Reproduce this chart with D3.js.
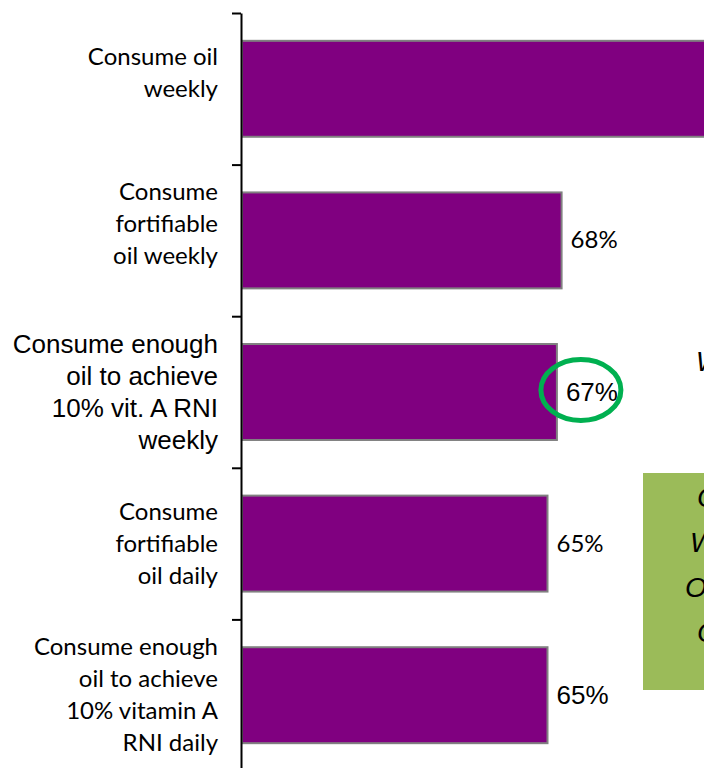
<!DOCTYPE html>
<html>
<head>
<meta charset="utf-8">
<script src="https://cdn.jsdelivr.net/npm/d3@7"></script>
<style>
  html, body { margin: 0; padding: 0; background: #ffffff; }
  svg { display: block; }
</style>
</head>
<body>
<script>
// Share of households by oil consumption indicator
// (the first two labels carry a trailing line break, which lifts them in their band)
const categories = [
  "Consume oil\nweekly\n",
  "Consume\nfortifiable\noil weekly\n",
  "Consume enough\noil to achieve\n10% vit. A RNI\nweekly",
  "Consume\nfortifiable\noil daily",
  "Consume enough\noil to achieve\n10% vitamin A\nRNI daily"
];
const values = [99, 68, 67, 65, 65];
const valueLabels = [null, "68%", "67%", "65%", "65%"];
const calloutText = ["W"];
const boxText = ["C", "W", "O", "C"];

const W = 704, H = 768;
const svg = d3.select("body").append("svg").attr("width", W).attr("height", H);
svg.append("rect").attr("width", W).attr("height", H).attr("fill", "#ffffff");

const x = d3.scaleLinear().domain([0, 100]).range([242, 712]);
const y = d3.scaleBand().domain(categories).range([13, 771])
  .paddingInner(0.367).paddingOuter(0.1835);

// rows typeset in Arial; the rest use the humanist face
const arialRows = new Set([2]);
const arialValueRows = new Set([2, 4]);
const humanist = "Lato, 'Open Sans', sans-serif";
const arial = "'Liberation Sans', Arial, sans-serif";

// bars
svg.append("g").selectAll("rect").data(values).join("rect")
  .attr("x", x(0))
  .attr("y", (d, i) => y(categories[i]))
  .attr("width", d => x(d) - x(0))
  .attr("height", y.bandwidth())
  .attr("fill", "#800080")
  .attr("stroke", "#808080")
  .attr("stroke-width", 2);

// category axis with ticks on the band boundaries
const edges = d3.scaleLinear().domain([0, categories.length]).range([13, 771]);
const axis = svg.append("g").attr("transform", "translate(241,0)")
  .call(d3.axisLeft(edges).ticks(categories.length).tickFormat("").tickSizeInner(9).tickSizeOuter(0));
axis.select(".domain").attr("stroke", "#000").attr("stroke-width", 2);
axis.selectAll(".tick line").attr("stroke", "#000").attr("stroke-width", 2);

// category labels
const lineH = 32;
categories.forEach((c, i) => {
  const lines = c.split("\n");
  const cy = y(c) + y.bandwidth() / 2;
  const isArial = arialRows.has(i);
  const t = svg.append("text")
    .attr("text-anchor", "end")
    .attr("font-family", isArial ? arial : humanist)
    .attr("font-size", isArial ? 26 : 24)
    .attr("fill", "#000");
  lines.forEach((ln, k) => {
    if (!ln) return;
    t.append("tspan")
      .attr("x", 218)
      .attr("y", cy + (k - (lines.length - 1) / 2) * lineH + (isArial ? 9 : 8))
      .text(ln);
  });
});

// value labels
values.forEach((v, i) => {
  if (!valueLabels[i]) return;
  const isArial = arialValueRows.has(i);
  svg.append("text")
    .attr("x", x(v) + 9)
    .attr("y", y(categories[i]) + y.bandwidth() / 2 + (isArial ? 9 : 8))
    .attr("font-family", isArial ? arial : humanist)
    .attr("font-size", isArial ? 26 : 24)
    .attr("fill", "#000")
    .text(valueLabels[i]);
});

// highlight ring around the weekly vitamin A value
svg.append("ellipse")
  .attr("cx", x(values[2]) + 24)
  .attr("cy", y(categories[2]) + y.bandwidth() / 2 - 2)
  .attr("rx", 40)
  .attr("ry", 30.5)
  .attr("fill", "none")
  .attr("stroke", "#00b050")
  .attr("stroke-width", 5);

// callout text
svg.append("text")
  .attr("x", 696).attr("y", 371)
  .attr("font-family", arial).attr("font-style", "italic")
  .attr("font-size", 27).attr("fill", "#000")
  .text(calloutText[0]);

// green note box
svg.append("rect")
  .attr("x", 643).attr("y", 473).attr("width", 80).attr("height", 217)
  .attr("fill", "#9bbb59");
const boxX = [697, 690, 685, 697];
boxText.forEach((s, k) => {
  svg.append("text")
    .attr("x", boxX[k]).attr("y", 507 + k * 45)
    .attr("font-family", arial).attr("font-style", "italic")
    .attr("font-size", 28).attr("fill", "#000")
    .text(s);
});
</script>
</body>
</html>
